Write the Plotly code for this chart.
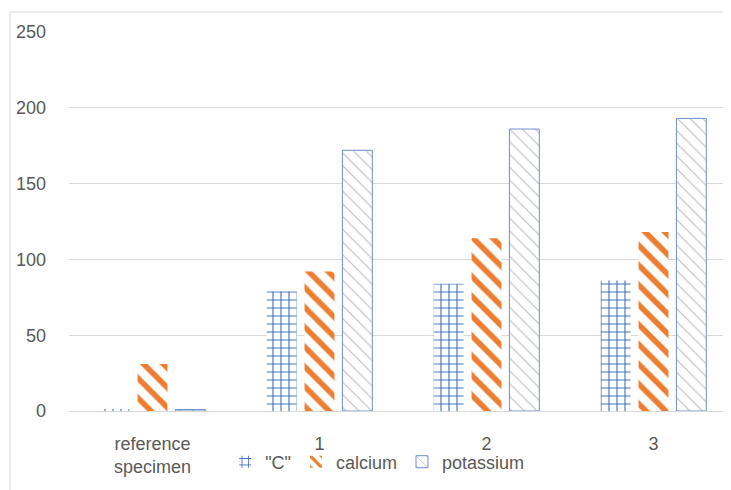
import plotly.graph_objects as go

categories = ["reference<br>specimen", "1", "2", "3"]
c_values = [1, 79, 84, 86]
calcium_values = [31, 92, 114, 118]
potassium_values = [1, 172, 186, 193]
y_ticks = [0, 50, 100, 150, 200, 250]

FONT = "Liberation Sans"
GREY = "#595959"
BLUE = "#4472C4"
ORANGE = "#ED7D31"

fig = go.Figure()
fig.add_trace(go.Bar(
    x=categories, y=c_values, name='"C"',
    marker=dict(color="white", line=dict(width=0),
                pattern=dict(shape="+", fgcolor=BLUE, bgcolor="white", fgopacity=1,
                             size=8, solidity=0.26, fillmode="replace")),
))
fig.add_trace(go.Bar(
    x=categories, y=calcium_values, name="calcium",
    marker=dict(color="white", line=dict(width=0),
                pattern=dict(shape="\\", fgcolor=ORANGE, bgcolor="white", fgopacity=1,
                             size=14, solidity=0.4, fillmode="replace")),
))
fig.add_trace(go.Bar(
    x=categories, y=potassium_values, name="potassium",
    marker=dict(color="white", line=dict(width=1, color="#6E8FD0"),
                pattern=dict(shape="\\", fgcolor="#BDBDBD", bgcolor="white", fgopacity=1,
                             size=9, solidity=0.12, fillmode="replace")),
))

# chart frame (top and left edges visible in the crop)
fig.add_shape(type="line", xref="paper", yref="paper", x0=-0.0881, x1=1.1, y0=1.0528, y1=1.0528,
              line=dict(color="#D9D9D9", width=1))
fig.add_shape(type="line", xref="paper", yref="paper", x0=-0.0881, x1=-0.0881, y0=1.0528, y1=-0.25,
              line=dict(color="#D9D9D9", width=1))

fig.update_layout(
    width=731, height=490,
    margin=dict(l=61, r=0, t=24, b=87),
    paper_bgcolor="white", plot_bgcolor="white",
    font=dict(family=FONT, size=18, color=GREY),
    barmode="group", bargap=0.32, bargroupgap=0.21,
    showlegend=True,
    legend=dict(orientation="h", x=0.46, xanchor="center", y=-0.1346, yanchor="middle",
                font=dict(family=FONT, size=18, color=GREY), itemwidth=30,
                bgcolor="rgba(0,0,0,0)", tracegroupgap=0),
    xaxis=dict(range=[-0.5, 3.512], showgrid=False, showline=True, linecolor="#D9D9D9",
               ticks="", ticklabelstandoff=16, tickfont=dict(family=FONT, size=18, color=GREY)),
    yaxis=dict(range=[0, 250], tickvals=y_ticks, showgrid=True, gridcolor="#D9D9D9",
               zeroline=False, showline=False, ticks="", ticklabelstandoff=22,
               tickfont=dict(family=FONT, size=18, color=GREY)),
)

fig.write_html("out.html")
